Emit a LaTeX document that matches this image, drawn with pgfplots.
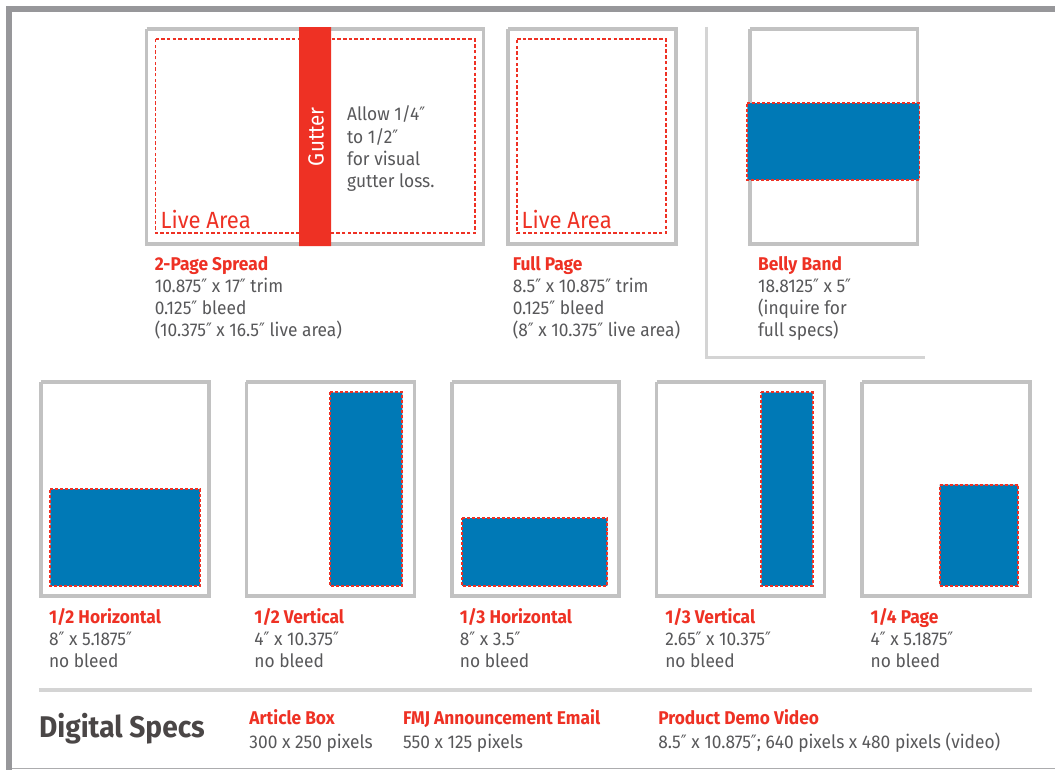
\documentclass[border=0pt]{standalone}
\usepackage{pgfplots}
\pgfplotsset{compat=1.18}
\usepackage{fontspec}
\setmainfont[FakeStretch=0.94]{Fira Sans}
\newfontfamily\dqf[FakeStretch=0.85]{DejaVu Sans}
\newcommand{\dq}{{\dqf ″}}
\definecolor{fmjred}{HTML}{EE3124}
\definecolor{fmjblue}{HTML}{0079B6}
\definecolor{boxgray}{HTML}{C2C2C2}
\definecolor{framegray}{HTML}{97979A}
\definecolor{txtgray}{HTML}{58585A}
\definecolor{divgray}{HTML}{D4D4D4}
\definecolor{darktxt}{HTML}{4A4646}
\newcommand{\bodytxt}{\fontsize{18.5bp}{22bp}\selectfont}
\newcommand{\bigtxt}{\fontsize{23.5bp}{23.5bp}\selectfont}
\tikzset{
  box/.style={draw=boxgray, line width=3.6bp, fill=white},
  live/.style={draw=fmjred, line width=1.8bp, dash pattern=on 3.5bp off 2.2bp},
  ad/.style={fill=fmjblue, draw=fmjred, line width=1.8bp, dash pattern=on 3bp off 2bp},
  lbl/.style={anchor=base west, text=txtgray, font=\bodytxt, inner sep=0pt},
  ttl/.style={anchor=base west, text=fmjred, font=\bodytxt\bfseries, inner sep=0pt},
}
\begin{document}
\begin{tikzpicture}
\begin{axis}[
  width=1058bp, height=772bp, scale only axis,
  xmin=0, xmax=1058, ymin=0, ymax=772, y dir=reverse,
  axis lines=none, ticks=none, clip=false,
  every axis plot/.append style={mark=none, line join=miter},
]
% background (defines the page)
\addplot[fill=white, draw=none] coordinates {(0,0) (1058,0) (1058,772) (0,772) (0,0)};
% outer frame
\addplot[draw=framegray, line width=6bp] coordinates {(9,772) (9,9) (1058,9)};
\addplot[draw=framegray!80, line width=1.5bp] coordinates {(12,770.5) (1058,770.5)};

% ---- 2-page spread ----
\addplot[box] coordinates {(147,29.3) (484.7,29.3) (484.7,244.7) (147,244.7) (147,29.3)};
\addplot[live] coordinates {(156,39.5) (476,39.5) (476,234) (156,234) (156,39.5)};
\addplot[fill=fmjred, draw=none] coordinates {(300,27.3) (332,27.3) (332,246.7) (300,246.7) (300,27.3)};
\node[rotate=90, text=white, font=\fontsize{22bp}{22bp}\selectfont, inner sep=0pt] at (axis cs:317,137) {Gutter};
\node[lbl] at (axis cs:348,121) {Allow 1/4\dq};
\node[lbl] at (axis cs:348,143.5) {to 1/2\dq};
\node[lbl] at (axis cs:348,166) {for visual};
\node[lbl] at (axis cs:348,188.5) {gutter loss.};
\node[anchor=base west, text=fmjred, font=\bigtxt, inner sep=0pt] at (axis cs:161,229) {Live Area};
\node[ttl] at (axis cs:155,271) {2-Page Spread};
\node[lbl] at (axis cs:155,293) {10.875\dq{} x 17\dq{} trim};
\node[lbl] at (axis cs:155,315) {0.125\dq{} bleed};
\node[lbl] at (axis cs:155,337) {(10.375\dq{} x 16.5\dq{} live area)};

% ---- full page ----
\addplot[box] coordinates {(509.5,29.3) (678,29.3) (678,244.7) (509.5,244.7) (509.5,29.3)};
\addplot[live] coordinates {(518.5,39.5) (668,39.5) (668,234) (518.5,234) (518.5,39.5)};
\node[anchor=base west, text=fmjred, font=\bigtxt, inner sep=0pt] at (axis cs:523,229) {Live Area};
\node[ttl] at (axis cs:514,271) {Full Page};
\node[lbl] at (axis cs:514,293) {8.5\dq{} x 10.875\dq{} trim};
\node[lbl] at (axis cs:514,315) {0.125\dq{} bleed};
\node[lbl] at (axis cs:514,337) {(8\dq{} x 10.375\dq{} live area)};

% divider
\addplot[draw=divgray, line width=3bp] coordinates {(708,27) (708,358.5) (928,358.5)};

% ---- belly band ----
\addplot[box] coordinates {(752,29.3) (920,29.3) (920,244.7) (752,244.7) (752,29.3)};
\addplot[ad] coordinates {(749.5,103.5) (922,103.5) (922,180.5) (749.5,180.5) (749.5,103.5)};
\node[ttl] at (axis cs:760,271) {Belly Band};
\node[lbl] at (axis cs:760,293) {18.8125\dq{} x 5\dq};
\node[lbl] at (axis cs:760,315) {(inquire for};
\node[lbl] at (axis cs:760,337) {full specs)};

% ---- bottom row ----
\addplot[box] coordinates {(41,383) (209.5,383) (209.5,597.5) (41,597.5) (41,383)};
\addplot[ad] coordinates {(50.5,490.5) (200.5,490.5) (200.5,587.5) (50.5,587.5) (50.5,490.5)};
\node[ttl] at (axis cs:49,625) {1/2 Horizontal};
\node[lbl] at (axis cs:49,647) {8\dq{} x 5.1875\dq};
\node[lbl] at (axis cs:49,669.5) {no bleed};

\addplot[box] coordinates {(247,383) (415.5,383) (415.5,597.5) (247,597.5) (247,383)};
\addplot[ad] coordinates {(331,393.5) (403.5,393.5) (403.5,587.5) (331,587.5) (331,393.5)};
\node[ttl] at (axis cs:255,625) {1/2 Vertical};
\node[lbl] at (axis cs:255,647) {4\dq{} x 10.375\dq};
\node[lbl] at (axis cs:255,669.5) {no bleed};

\addplot[box] coordinates {(453,383) (621,383) (621,597.5) (453,597.5) (453,383)};
\addplot[ad] coordinates {(463.5,519.5) (609,519.5) (609,587.5) (463.5,587.5) (463.5,519.5)};
\node[ttl] at (axis cs:461,625) {1/3 Horizontal};
\node[lbl] at (axis cs:461,647) {8\dq{} x 3.5\dq};
\node[lbl] at (axis cs:461,669.5) {no bleed};

\addplot[box] coordinates {(658.5,383) (827,383) (827,597.5) (658.5,597.5) (658.5,383)};
\addplot[ad] coordinates {(763.5,393.5) (815,393.5) (815,587.5) (763.5,587.5) (763.5,393.5)};
\node[ttl] at (axis cs:667,625) {1/3 Vertical};
\node[lbl] at (axis cs:667,647) {2.65\dq{} x 10.375\dq};
\node[lbl] at (axis cs:667,669.5) {no bleed};

\addplot[box] coordinates {(864.5,383) (1033,383) (1033,597.5) (864.5,597.5) (864.5,383)};
\addplot[ad] coordinates {(942.5,486) (1021,486) (1021,587.5) (942.5,587.5) (942.5,486)};
\node[ttl] at (axis cs:873,625) {1/4 Page};
\node[lbl] at (axis cs:873,647) {4\dq{} x 5.1875\dq};
\node[lbl] at (axis cs:873,669.5) {no bleed};

% ---- digital specs ----
\addplot[draw=divgray, line width=3.5bp] coordinates {(39,692) (1035,692)};
\node[anchor=base west, text=darktxt, font=\fontsize{30bp}{30bp}\selectfont\bfseries, inner sep=0pt] at (axis cs:39,740) {Digital Specs};
\node[ttl] at (axis cs:250,727) {Article Box};
\node[lbl] at (axis cs:250,751) {300 x 250 pixels};
\node[ttl] at (axis cs:404,727) {FMJ Announcement Email};
\node[lbl] at (axis cs:404,751) {550 x 125 pixels};
\node[ttl] at (axis cs:660,727) {Product Demo Video};
\node[lbl] at (axis cs:660,751) {8.5\dq{} x 10.875\dq; 640 pixels x 480 pixels (video)};
\end{axis}
\end{tikzpicture}
\end{document}
